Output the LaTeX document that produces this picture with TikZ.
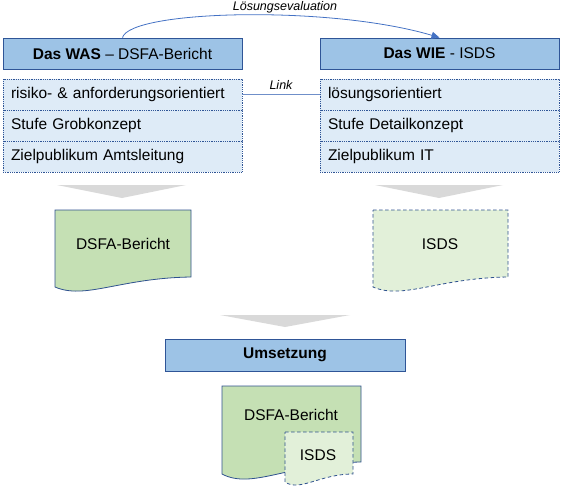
\documentclass[tikz,border=0pt]{standalone}
\usepackage{fontspec}
\setmainfont{Liberation Sans}
\usetikzlibrary{arrows.meta}
\definecolor{hdfill}{HTML}{9DC3E6}
\definecolor{hdline}{HTML}{2F5597}
\definecolor{lifill}{HTML}{DEEBF7}
\definecolor{docgreen}{HTML}{C5E0B4}
\definecolor{doclight}{HTML}{E2F0D9}
\definecolor{docline}{HTML}{2F528F}
\definecolor{arrowblue}{HTML}{4472C4}
\definecolor{chevgray}{HTML}{D9D9D9}
\definecolor{linkblue}{HTML}{6F8FC9}
\begin{document}
\begin{tikzpicture}[x=1pt,y=-1pt,
  font=\fontsize{15.5}{18}\selectfont,
  header/.style={draw=hdline, fill=hdfill, line width=0.8pt, minimum width=239pt, minimum height=31pt, inner sep=0pt},
  item/.style={draw=hdline, densely dotted, fill=lifill, line width=0.8pt, minimum width=239pt, minimum height=31pt, inner xsep=8pt, inner ysep=0pt, text width=223pt, align=left},
  lbl/.style={font=\fontsize{12.5}{14}\selectfont\itshape, inner sep=0pt},
  doctext/.style={inner sep=0pt},
  docshape/.style={draw=docline, line width=0.8pt},
  docdash/.style={docshape, dash pattern=on 3.5pt off 2.5pt},
  chev/.style={fill=chevgray},
  evalarrow/.style={draw=arrowblue, line width=0.8pt, -{Triangle[length=8pt,width=7pt]}},
  linkline/.style={draw=linkblue, line width=0.6pt}
]
\useasboundingbox (0,0) rectangle (565,491);

% headers
\node[header] (washead) at (122.5,53.5) {\textbf{Das WAS} – DSFA-Bericht};
\node[header] (wiehead) at (439.5,53.5) {\textbf{Das WIE} - ISDS};

% lists
\node[item] (was1) at (122.5,94.5) {risiko- \& anforderungsorientiert};
\node[item] (was2) at (122.5,125.5) {Stufe Grobkonzept};
\node[item] (was3) at (122.5,156.5) {Zielpublikum Amtsleitung};
\node[item] (wie1) at (439.5,94.5) {lösungsorientiert};
\node[item] (wie2) at (439.5,125.5) {Stufe Detailkonzept};
\node[item] (wie3) at (439.5,156.5) {Zielpublikum IT};

% link
\draw[linkline] (was1.east) -- node[lbl, above=5pt] (linklabel) {Link} (wie1.west);

% evaluation arrow
\draw[evalarrow] (washead.north) .. controls (130,10) and (330,5) .. (wiehead.north);
\node[lbl] (evallabel) at (285,7) {Lösungsevaluation};

% chevrons
\fill[chev] (57,185) -- (186,185) -- (122,198) -- cycle;
\fill[chev] (375,185) -- (503,185) -- (439,198) -- cycle;
\fill[chev] (220,315) -- (350,315) -- (285,327) -- cycle;

% documents top
\draw[docshape, fill=docgreen] (55,210) -- (191,210) -- (191,277) .. controls (120,278) and (85,300) .. (55,287) -- cycle;
\node[doctext] (dsfa) at (123,244) {DSFA-Bericht};
\draw[docdash, fill=doclight] (373,210) -- (508,210) -- (508,277) .. controls (438,278) and (403,300) .. (373,287) -- cycle;
\node[doctext] (isds) at (440,244) {ISDS};

% Umsetzung
\node[header, minimum width=240pt, minimum height=32pt] (umsetzung) at (285,355) {\textbf{Umsetzung}};

% documents bottom
\draw[docshape, fill=docgreen] (222,386) -- (361,386) -- (361,462) .. controls (290,463) and (252,490) .. (222,474) -- cycle;
\node[doctext] (dsfa2) at (291,415) {DSFA-Bericht};
\draw[docdash, fill=doclight] (285,432) -- (353,432) -- (353,474) .. controls (320,474) and (300,492) .. (285,482) -- cycle;
\node[doctext] (isds2) at (318,455) {ISDS};
\end{tikzpicture}
\end{document}
